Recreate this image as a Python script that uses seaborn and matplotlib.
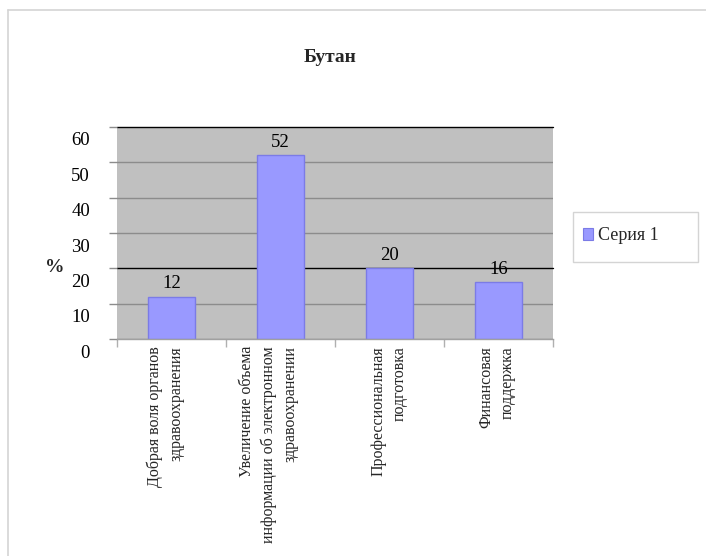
import matplotlib
matplotlib.use("Agg")
import matplotlib.pyplot as plt
import matplotlib.transforms as mtransforms
from matplotlib.patches import Patch, Rectangle
from matplotlib.lines import Line2D
import seaborn as sns
import pandas as pd

# Survey data: factors cited (Bhutan), percent of respondents
categories = [
    "Добрая воля органов\nздравоохранения",
    "Увеличение объема\nинформации об электронном\nздравоохранении",
    "Профессиональная\nподготовка",
    "Финансовая\nподдержка",
]
values = [12, 52, 20, 16]
series_name = "Серия 1"
title = "Бутан"
y_ticks = [0, 10, 20, 30, 40, 50, 60]

sns.set_theme(style="white")
plt.rcParams["font.family"] = ["Liberation Serif", "DejaVu Serif"]

W, H = 706, 556
fig = plt.figure(figsize=(W / 100, H / 100), dpi=100)
ax = fig.add_axes([117 / W, 1 - 339 / H, (553 - 117) / W, (339 - 127) / H])

df = pd.DataFrame({"cat": categories, "val": values})
bar_color = "#9999FF"
sns.barplot(data=df, x="cat", y="val", color=bar_color, width=0.43,
            edgecolor="#7b7be6", linewidth=1.0, saturation=1, ax=ax)

ax.set_facecolor("#C0C0C0")
ax.set_ylim(0, 60)
ax.set_xlim(-0.5, len(categories) - 0.5)
ax.set_xlabel("")
ax.set_ylabel("")

# horizontal gridlines; 20 and 60 drawn in black
grid_gray = "#8c8c8c"
ax.set_yticks(y_ticks)
ax.yaxis.grid(True, color=grid_gray, linewidth=1.0)
ax.set_axisbelow(True)
ax.tick_params(axis="y", which="major", direction="out", length=6, width=1.0,
               color=grid_gray, pad=13.5, labelsize=13.5, left=True)
for tick, v in zip(ax.yaxis.get_major_ticks(), y_ticks):
    if v in (20, 60):
        tick.gridline.set_color("black")
        tick.tick1line.set_color("black")
        tick.gridline.set_clip_on(False)
    tick.label1.set_color("black")
# tick labels sit slightly below their lines
shift = mtransforms.ScaledTranslation(0, -12 / 100, fig.dpi_scale_trans)
for lab in ax.get_yticklabels():
    lab.set_transform(lab.get_transform() + shift)

# category axis: boundary ticks, rotated multi-line labels
ax.set_xticks(range(len(categories)))
ax.set_xticklabels(categories, rotation=90, fontsize=11.5, ha="center",
                   va="top", multialignment="right", linespacing=1.45)
ax.set_xticks([i - 0.5 for i in range(len(categories) + 1)], minor=True)
ax.tick_params(axis="x", which="major", length=0, pad=5)
ax.tick_params(axis="x", which="minor", direction="out", length=6,
               width=1.0, color="#b0b0b0", bottom=True)
x_shift = [-6, -12, 0, -1]
for lab, dx in zip(ax.get_xticklabels(), x_shift):
    lab.set_transform(lab.get_transform() +
                      mtransforms.ScaledTranslation(dx / 100, 0, fig.dpi_scale_trans))

for s in ["top", "right", "left"]:
    ax.spines[s].set_visible(False)
ax.spines["bottom"].set_color("#a0a0a0")
ax.spines["bottom"].set_linewidth(1.0)

# value labels
for cont in ax.containers:
    ax.bar_label(cont, labels=[str(v) for v in values], padding=3,
                 fontsize=13.5, color="black")

ax.text(55 / W, 1 - 268 / H, "%", transform=fig.transFigure, fontsize=14,
        fontweight="bold", ha="center", va="center")

fig.text(330 / W, 1 - 57 / H, title, fontsize=14, fontweight="bold",
         ha="center", va="center")

# legend with its own frame
fig.add_artist(Rectangle((573 / W, 1 - 262 / H), (698 - 573) / W, 50 / H,
                         transform=fig.transFigure, facecolor="white",
                         edgecolor="#d4d4d4", linewidth=1.0))
fig.legend(handles=[Patch(facecolor=bar_color, edgecolor="#7b7be6",
                          linewidth=0.8, label=series_name)],
           loc="center left", bbox_to_anchor=(570 / W, 1 - 236 / H),
           frameon=False, fontsize=13, handlelength=0.6, handleheight=0.6,
           handletextpad=0.25, borderpad=0.2)

# page border (top and left edges)
fig.add_artist(Line2D([8 / W, 8 / W], [0, 1 - 10 / H], transform=fig.transFigure,
                      color="#d4d4d4", linewidth=1.2))
fig.add_artist(Line2D([8 / W, 1], [1 - 10 / H, 1 - 10 / H], transform=fig.transFigure,
                      color="#d4d4d4", linewidth=1.2))

fig.savefig("out.png", dpi=100)
